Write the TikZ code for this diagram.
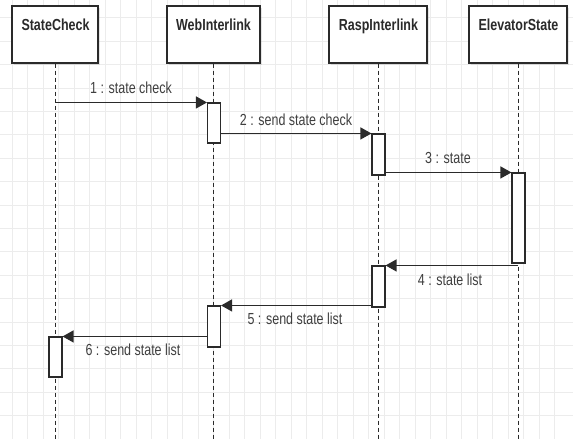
\documentclass[tikz,border=0pt]{standalone}
\usepackage{fontspec}
\setmainfont{Liberation Sans}[FakeStretch=0.78]
\usetikzlibrary{arrows.meta,shadows}
\definecolor{gridc}{HTML}{ECECEC}
\definecolor{linec}{HTML}{2A2A2A}
\tikzset{
  head/.style={draw=linec, line width=1.3pt, fill=white, minimum width=#1, minimum height=57pt, inner sep=0pt,
    drop shadow={shadow xshift=2pt, shadow yshift=-2pt, opacity=0.2}},
  headtext/.style={anchor=base, inner sep=0pt, font=\fontsize{16}{19}\selectfont\bfseries, text=linec},
  act/.style={draw=linec, line width=1.1pt, fill=white, minimum width=13pt, minimum height=#1, inner sep=0pt},
  life/.style={draw=linec, line width=1pt, dash pattern=on 4pt off 3pt},
  msg/.style={draw=linec, line width=1.2pt, -{Triangle[length=11pt,width=12pt]}},
  msgtext/.style={anchor=base, inner sep=0pt, font=\fontsize{16}{19}\selectfont, text=linec!90}
}
\begin{document}
\begin{tikzpicture}[x=1pt,y=-1pt]
\fill[white] (0,0) rectangle (573,439);
\useasboundingbox (0,0) rectangle (573,439);
% grid
\foreach \i in {0,...,36} {\draw[gridc, line width=0.6pt] ({-3.5+15.5*\i},0) -- ({-3.5+15.5*\i},439);}
\foreach \j in {0,...,18} {\draw[gridc, line width=0.6pt] (0,{17.6+23.4*\j}) -- (573,{17.6+23.4*\j});}
% headers
\node[head=86pt] (sc) at (55,34.5) {};
\node[head=93pt] (wi) at (213.5,34.5) {};
\node[head=98pt] (ri) at (378,34.5) {};
\node[head=98pt] (es) at (518,34.5) {};
\node[headtext] (sct) at (55.5,30) {StateCheck};
\node[headtext] (wit) at (213.5,30) {WebInterlink};
\node[headtext] (rit) at (378.5,30) {RaspInterlink};
\node[headtext] (est) at (518.5,30) {ElevatorState};
% lifelines
\coordinate (scb) at (sc.south |- 0,439);
\coordinate (wib) at (wi.south |- 0,439);
\coordinate (rib) at (ri.south |- 0,439);
\coordinate (esb) at (es.south |- 0,439);
\draw[life] (sc.south) -- (scb);
\draw[life] (wi.south) -- (wib);
\draw[life] (ri.south) -- (rib);
\draw[life] (es.south) -- (esb);
% activations
\node[act=40pt] (wa1) at (214,123) {};
\node[act=41pt] (ra1) at (378.5,154.5) {};
\node[act=90pt] (ea) at (518.5,218) {};
\node[act=41pt] (ra2) at (378.5,286.5) {};
\node[act=41pt] (wa2) at (214,326.5) {};
\node[act=40pt] (sa) at (55.5,357) {};
% messages
\draw[msg] (sc.south |- wa1.north west) -- (wa1.north west);
\draw[msg] (wa1.east |- ra1.north west) -- (ra1.north west);
\draw[msg] (ra1.east |- ea.north west) -- (ea.north west);
\draw[msg] (es.south |- ra2.north east) -- (ra2.north east);
\draw[msg] (ra2.west |- wa2.north east) -- (wa2.north east);
\draw[msg] (wa2.west |- sa.north east) -- (sa.north east);
% labels
\node[msgtext] (m1) at (131,93) {1 : state check};
\node[msgtext] (m2) at (296,125) {2 : send state check};
\node[msgtext] (m3) at (448,163) {3 : state};
\node[msgtext] (m4) at (450,285) {4 : state list};
\node[msgtext] (m5) at (295,324) {5 : send state list};
\node[msgtext] (m6) at (133,355) {6 : send state list};
\end{tikzpicture}
\end{document}
